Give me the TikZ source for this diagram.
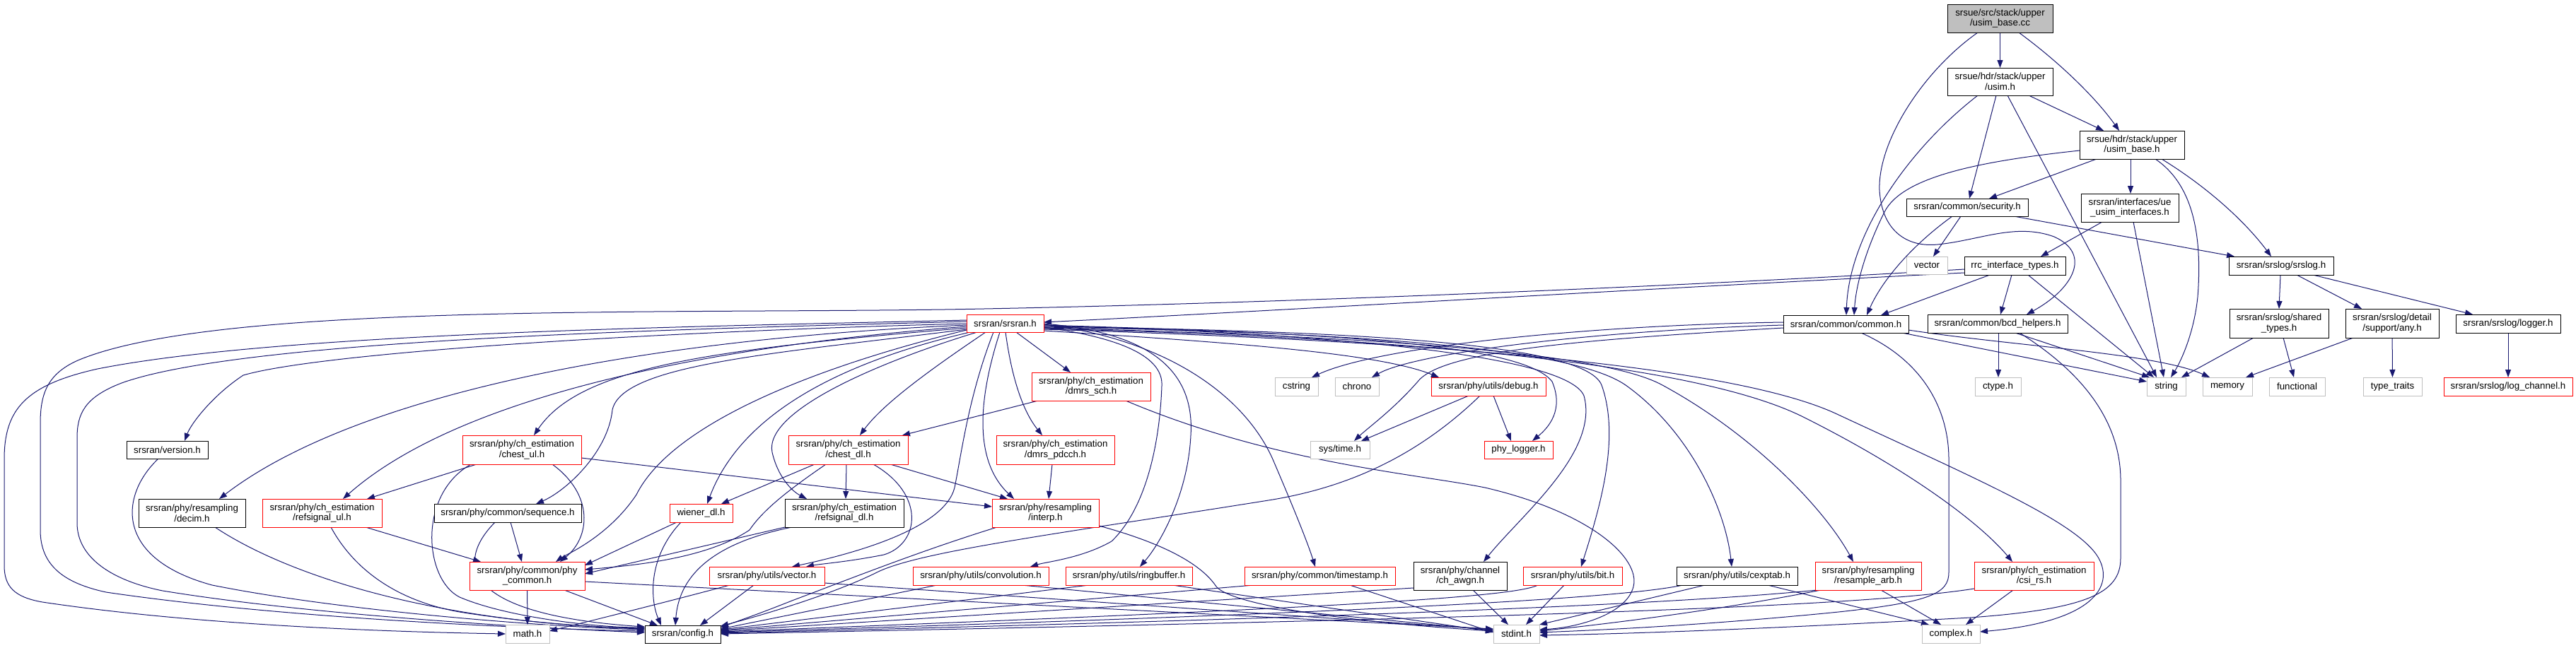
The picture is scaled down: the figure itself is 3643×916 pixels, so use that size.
\documentclass[tikz,border=0pt]{standalone}
\usepackage{fontspec}
\setmainfont{Liberation Sans}
\usetikzlibrary{arrows.meta,backgrounds}
\definecolor{navyc}{HTML}{191970}
\definecolor{greyc}{HTML}{BFBFBF}
\newcommand\bx[7]{\node[#1, minimum width={(#4-#3)*1pt}, minimum height={(#6-#5)*1pt}] (#2) at ({(#3+#4)/2},{(#5+#6)/2}) {#7};}
\tikzset{
 nbase/.style={rectangle, inner sep=0pt, outer sep=0pt, align=center, font={\fontsize{13.3pt}{14.7pt}\selectfont}, fill=white, line width=1pt},
 blk/.style={nbase, draw=black},
 redb/.style={nbase, draw=red},
 sys/.style={nbase, draw=greyc},
 rootb/.style={nbase, draw=black, fill=greyc},
 edge/.style={draw=navyc, line width=1pt, -{Triangle[length=11pt,width=8pt]}},
}
\begin{document}
\begin{tikzpicture}[x=1pt,y=-1pt]
\useasboundingbox (0,0) rectangle (3643,916);
% nodes
\bx{rootb}{cc}{2754}{2903}{6}{46}{srsue/src/stack/upper\\/usim\_base.cc}
\bx{blk}{usim}{2754}{2903}{96}{135}{srsue/hdr/stack/upper\\/usim.h}
\bx{blk}{usimbase}{2941}{3089}{185}{225}{srsue/hdr/stack/upper\\/usim\_base.h}
\bx{blk}{security}{2696}{2868}{281}{306}{srsran/common/security.h}
\bx{blk}{ueusim}{2943}{3081}{274}{314}{srsran/interfaces/ue\\\_usim\_interfaces.h}
\bx{sys}{vector}{2696}{2754}{363}{388}{vector}
\bx{blk}{rrc}{2778}{2921}{363}{389}{rrc\_interface\_types.h}
\bx{blk}{srslog}{3152}{3300}{363}{389}{srsran/srslog/srslog.h}
\bx{redb}{srsranh}{1367}{1476}{445}{470}{srsran/srsran.h}
\bx{blk}{common}{2522}{2699}{446}{471}{srsran/common/common.h}
\bx{blk}{bcd}{2726}{2924}{445}{471}{srsran/common/bcd\_helpers.h}
\bx{blk}{shared}{3153}{3293}{437}{478}{srsran/srslog/shared\\\_types.h}
\bx{blk}{any}{3317}{3449}{437}{478}{srsran/srslog/detail\\/support/any.h}
\bx{blk}{logger}{3473}{3621}{445}{471}{srsran/srslog/logger.h}
\bx{sys}{cstring}{1803}{1864}{534}{560}{cstring}
\bx{sys}{chrono}{1888}{1950}{534}{560}{chrono}
\bx{redb}{debug}{2024}{2186}{534}{560}{srsran/phy/utils/debug.h}
\bx{sys}{ctype}{2793}{2858}{534}{560}{ctype.h}
\bx{sys}{string}{3036}{3091}{534}{560}{string}
\bx{sys}{memory}{3115}{3185}{534}{560}{memory}
\bx{sys}{functional}{3209}{3288}{534}{560}{functional}
\bx{sys}{typetraits}{3342}{3425}{534}{560}{type\_traits}
\bx{redb}{logchannel}{3456}{3638}{534}{560}{srsran/srslog/log\_channel.h}
\bx{redb}{dmrssch}{1459}{1627}{527}{567}{srsran/phy/ch\_estimation\\/dmrs\_sch.h}
\bx{blk}{version}{179}{294}{624}{649}{srsran/version.h}
\bx{redb}{chestul}{654}{822}{616}{657}{srsran/phy/ch\_estimation\\/chest\_ul.h}
\bx{redb}{chestdl}{1115}{1284}{616}{657}{srsran/phy/ch\_estimation\\/chest\_dl.h}
\bx{redb}{dmrspdcch}{1409}{1576}{616}{657}{srsran/phy/ch\_estimation\\/dmrs\_pdcch.h}
\bx{sys}{systime}{1853}{1937}{624}{649}{sys/time.h}
\bx{redb}{phylogger}{2099}{2196}{624}{649}{phy\_logger.h}
\bx{blk}{decim}{196}{347}{706}{746}{srsran/phy/resampling\\/decim.h}
\bx{redb}{refsigul}{371}{540}{706}{746}{srsran/phy/ch\_estimation\\/refsignal\_ul.h}
\bx{blk}{sequence}{614}{822}{713}{739}{srsran/phy/common/sequence.h}
\bx{redb}{wiener}{947}{1036}{713}{739}{wiener\_dl.h}
\bx{blk}{refsigdl}{1110}{1278}{706}{746}{srsran/phy/ch\_estimation\\/refsignal\_dl.h}
\bx{redb}{interp}{1403}{1554}{706}{746}{srsran/phy/resampling\\/interp.h}
\bx{redb}{phycommon}{664}{827}{795}{835}{srsran/phy/common/phy\\\_common.h}
\bx{redb}{vectorh}{1003}{1166}{802}{828}{srsran/phy/utils/vector.h}
\bx{redb}{convolution}{1291}{1483}{802}{828}{srsran/phy/utils/convolution.h}
\bx{redb}{ringbuffer}{1507}{1686}{802}{828}{srsran/phy/utils/ringbuffer.h}
\bx{redb}{timestamp}{1760}{1973}{802}{828}{srsran/phy/common/timestamp.h}
\bx{blk}{chawgn}{1999}{2131}{795}{835}{srsran/phy/channel\\/ch\_awgn.h}
\bx{redb}{bit}{2154}{2294}{802}{828}{srsran/phy/utils/bit.h}
\bx{blk}{cexptab}{2371}{2542}{802}{828}{srsran/phy/utils/cexptab.h}
\bx{redb}{resarb}{2567}{2717}{795}{835}{srsran/phy/resampling\\/resample\_arb.h}
\bx{redb}{csirs}{2792}{2961}{795}{835}{srsran/phy/ch\_estimation\\/csi\_rs.h}
\bx{sys}{math}{715}{777}{884}{910}{math.h}
\bx{blk}{config}{912}{1019}{885}{910}{srsran/config.h}
\bx{sys}{stdint}{2112}{2177}{884}{910}{stdint.h}
\bx{sys}{complex}{2718}{2800}{884}{910}{complex.h}
\begin{pgfonlayer}{background}
% top cluster
\draw[edge] (cc) -- (usim);
\draw[edge] (cc.south -| 2855,0) .. controls (2915,90) and (2965,140) .. (usimbase.north -| 2997,0);
\draw[edge] (cc.south -| 2797,0) .. controls (2720,100) and (2655,200) .. (2658,270) .. controls (2662,330) and (2700,350) .. (2740,346) .. controls (2800,340) and (2850,315) .. (2905,335) .. controls (2960,360) and (2930,410) .. (bcd.north -| 2866,0);
\draw[edge] (usim.south -| 2869,0) -- (usimbase.north -| 2975,0);
\draw[edge] (usim.south -| 2823,0) -- (security.north -| 2785,0);
\draw[edge] (usim.south -| 2797,0) .. controls (2700,210) and (2615,330) .. (common.north -| 2611,0);
\draw[edge] (usim.south -| 2839,0) -- (string.north -| 3050,0);
\draw[edge] (usimbase.south -| 2965,0) -- (security.north -| 2813,0);
\draw[edge] (usimbase.south -| 3013,0) -- (ueusim.north -| 3013,0);
\draw[edge] (usimbase.south -| 3057,0) .. controls (3130,270) and (3180,320) .. (srslog.north -| 3212,0);
\draw[edge] (usimbase.south -| 3048,0) .. controls (3100,260) and (3115,330) .. (3108,420) .. controls (3103,470) and (3085,510) .. (string.north -| 3070,0);
\draw[edge] (usimbase.west |- 0,213) .. controls (2800,228) and (2690,250) .. (2665,300) .. controls (2640,350) and (2625,400) .. (common.north -| 2622,0);
\draw[edge] (security.south -| 2773,0) -- (vector.north -| 2734,0);
\draw[edge] (security.south -| 2761,0) .. controls (2700,350) and (2660,400) .. (common.north -| 2640,0);
\draw[edge] (security.south -| 2848,0) -- (srslog.north -| 3160,0);
\draw[edge] (ueusim.south -| 2973,0) -- (rrc.north -| 2886,0);
\draw[edge] (ueusim.south -| 3017,0) -- (string.north -| 3060,0);
\draw[edge] (rrc.south -| 2814,0) -- (common.north -| 2660,0);
\draw[edge] (rrc.south -| 2845,0) -- (bcd.north -| 2829,0);
\draw[edge] (rrc.south -| 2868,0) -- (string.north -| 3046,0);
\draw[edge] (rrc.west |- 0,386) .. controls (2300,410) and (1800,440) .. (srsranh.east |- 0,456);
\draw[edge] (rrc.west |- 0,381) .. controls (2300,410) and (1700,432) .. (1336,438) .. controls (900,444) and (300,430) .. (110,510) .. controls (65,530) and (57,560) .. (57,600) -- (57,750) .. controls (57,800) and (90,825) .. (150,838) .. controls (400,875) and (750,890) .. (config.west |- 0,893);
% srslog cluster
\draw[edge] (srslog.south -| 3225,0) -- (shared.north -| 3223,0);
\draw[edge] (srslog.south -| 3248,0) -- (any.north -| 3340,0);
\draw[edge] (srslog.south -| 3271,0) -- (logger.north -| 3497,0);
\draw[edge] (shared.south -| 3187,0) -- (string.north -| 3085,0);
\draw[edge] (shared.south -| 3229,0) -- (functional.north -| 3244,0);
\draw[edge] (any.south -| 3328,0) -- (memory.north -| 3176,0);
\draw[edge] (any) -- (typetraits);
\draw[edge] (logger) -- (logchannel);
% common
\draw[edge] (common.west |- 0,456) .. controls (2250,460) and (1950,490) .. (cstring.north -| 1855,0);
\draw[edge] (common.west |- 0,460) .. controls (2250,468) and (2000,500) .. (chrono.north -| 1940,0);
\draw[edge] (common.west |- 0,464) .. controls (2250,480) and (2040,495) .. (2005,540) .. controls (1970,580) and (1935,605) .. (systime.north -| 1915,0);
\draw[edge] (common.south -| 2690,0) -- (string.west |- 0,540);
\draw[edge] (common.east |- 0,467) .. controls (2850,490) and (3050,500) .. (memory.north -| 3125,0);
\draw[edge] (common.south -| 2632,0) .. controls (2720,510) and (2756,580) .. (2756,650) -- (2756,810) .. controls (2756,840) and (2730,852) .. (2600,866) .. controls (2400,886) and (2250,892) .. (stdint.east |- 0,895);
% bcd
\draw[edge] (bcd.south -| 2826,0) -- (ctype.north -| 2826,0);
\draw[edge] (bcd.south -| 2850,0) -- (string.north -| 3040,0);
\draw[edge] (bcd.south -| 2856,0) .. controls (2950,530) and (2999,600) .. (2999,680) -- (2999,790) .. controls (2999,840) and (2950,862) .. (2786,874) .. controls (2500,890) and (2300,897) .. (stdint.east |- 0,899);
% srsran right side
\draw[edge] (srsranh.east |- 0,460) .. controls (1800,470) and (2150,480) .. (2195,540) .. controls (2212,580) and (2190,605) .. (phylogger.north -| 2167,0);
\draw[edge] (srsranh.east |- 0,468) .. controls (1750,485) and (1950,500) .. (debug.north -| 2035,0);
\draw[edge] (srsranh.east |- 0,461) .. controls (1850,470) and (2215,500) .. (2240,560) .. controls (2262,640) and (2150,730) .. (chawgn.north -| 2098,0);
\draw[edge] (srsranh.east |- 0,462) .. controls (1850,468) and (2240,480) .. (2265,545) .. controls (2292,620) and (2262,720) .. (bit.north -| 2236,0);
\draw[edge] (srsranh.east |- 0,463) .. controls (1900,470) and (2220,490) .. (2299,545) .. controls (2390,610) and (2440,720) .. (cexptab.north -| 2449,0);
\draw[edge] (srsranh.east |- 0,464) .. controls (1900,475) and (2260,495) .. (2351,545) .. controls (2480,615) and (2580,720) .. (resarb.north -| 2621,0);
\draw[edge] (srsranh.east |- 0,465) .. controls (2000,478) and (2400,515) .. (2550,590) .. controls (2700,665) and (2800,740) .. (csirs.north -| 2846,0);
\draw[edge] (srsranh.east |- 0,466) .. controls (2000,482) and (2450,515) .. (2600,587) .. controls (2800,680) and (2940,740) .. (2968,790) .. controls (2990,830) and (2960,880) .. (complex.east |- 0,894);
\draw[edge] (srsranh.east |- 0,459) .. controls (1650,480) and (1760,560) .. (1800,650) .. controls (1830,720) and (1850,770) .. (timestamp.north -| 1860,0);
\draw[edge] (srsranh.east |- 0,458) .. controls (1620,470) and (1690,520) .. (1684,616) .. controls (1680,700) and (1640,770) .. (ringbuffer.north -| 1612,0);
\draw[edge] (srsranh.east |- 0,463) .. controls (1600,480) and (1645,510) .. (1643,546) .. controls (1640,630) and (1620,720) .. (1572,766) .. controls (1530,790) and (1480,795) .. (convolution.north -| 1457,0);
% srsran bottom
\draw[edge] (srsranh.south -| 1437,0) -- (dmrssch.north -| 1514,0);
\draw[edge] (srsranh.south -| 1422,0) .. controls (1430,530) and (1445,580) .. (dmrspdcch.north -| 1474,0);
\draw[edge] (srsranh.south -| 1414,0) .. controls (1385,560) and (1375,650) .. (interp.north -| 1434,0);
\draw[edge] (srsranh.south -| 1405,0) .. controls (1370,560) and (1360,640) .. (1350,690) .. controls (1335,750) and (1200,785) .. (vectorh.north -| 1120,0);
\draw[edge] (srsranh.south -| 1394,0) .. controls (1320,520) and (1250,570) .. (chestdl.north -| 1216,0);
\draw[edge] (srsranh.south -| 1382,0) .. controls (1250,510) and (1080,580) .. (1092,640) .. controls (1100,675) and (1120,695) .. (refsigdl.north -| 1141,0);
\draw[edge] (srsranh.south -| 1372,0) .. controls (1200,510) and (1050,580) .. (wiener.north -| 1000,0);
\draw[edge] (srsranh.west |- 0,467) .. controls (1150,520) and (950,600) .. (900,700) .. controls (860,760) and (800,785) .. (phycommon.north -| 786,0);
\draw[edge] (srsranh.west |- 0,466) .. controls (1100,500) and (880,515) .. (866,580) .. controls (860,640) and (800,695) .. (sequence.north -| 758,0);
\draw[edge] (srsranh.west |- 0,464) .. controls (1000,495) and (820,520) .. (chestul.north -| 755,0);
\draw[edge] (srsranh.west |- 0,462) .. controls (1000,490) and (650,560) .. (refsigul.north -| 485,0);
\draw[edge] (srsranh.west |- 0,460) .. controls (900,480) and (500,560) .. (decim.north -| 310,0);
\draw[edge] (srsranh.west |- 0,458) .. controls (900,470) and (450,500) .. (344,531) .. controls (300,560) and (270,600) .. (version.north -| 261,0);
\draw[edge] (srsranh.west |- 0,455) .. controls (1000,465) and (350,478) .. (172,542) .. controls (120,562) and (109,585) .. (109,620) -- (109,740) .. controls (109,790) and (160,822) .. (230,836) .. controls (450,872) and (780,890) .. (config.west |- 0,895);
\draw[edge] (srsranh.west |- 0,453) .. controls (1000,462) and (400,470) .. (138,522) .. controls (35,545) and (6,580) .. (6,650) -- (6,800) .. controls (6,830) and (20,845) .. (60,852) .. controls (300,888) and (600,895) .. (math.west |- 0,897);
% lower left
\draw[edge] (version.south -| 224,0) .. controls (170,700) and (160,790) .. (300,828) .. controls (500,868) and (800,888) .. (config.west |- 0,891);
\draw[edge] (decim.south -| 304,0) .. controls (400,810) and (600,880) .. (config.west |- 0,890);
\draw[edge] (refsigul.south -| 468,0) .. controls (500,805) and (560,850) .. (650,866) .. controls (750,882) and (850,888) .. (config.west |- 0,889);
\draw[edge] (refsigul.south -| 517,0) -- (phycommon.north -| 680,0);
\draw[edge] (chestul.south -| 674,0) -- (refsigul.north -| 519,0);
\draw[edge] (chestul.south -| 781,0) .. controls (840,700) and (835,760) .. (phycommon.north -| 792,0);
\draw[edge] (chestul.east |- 0,648) -- (interp.west |- 0,717);
\draw[edge] (chestul.south -| 666,0) .. controls (590,700) and (600,820) .. (650,845) .. controls (720,875) and (850,888) .. (config.west |- 0,888);
\draw[edge] (sequence.south -| 722,0) -- (phycommon.north -| 738,0);
\draw[edge] (sequence.south -| 700,0) .. controls (640,800) and (660,870) .. (config.west |- 0,887);
\draw[edge] (phycommon) -- (math);
\draw[edge] (phycommon.south -| 798,0) -- (config.north -| 930,0);
\draw[edge] (phycommon.east |- 0,823) -- (stdint.west |- 0,890);
\draw[edge] (wiener.south -| 957,0) -- (phycommon.east |- 0,800);
\draw[edge] (wiener.south -| 963,0) .. controls (915,790) and (920,850) .. (config.north -| 935,0);
\draw[edge] (refsigdl.south west) -- (phycommon.east |- 0,812);
\draw[edge] (refsigdl.south -| 1120,0) .. controls (1000,770) and (960,820) .. (config.north -| 955,0);
\draw[edge] (chestdl.south -| 1152,0) -- (wiener.north -| 1020,0);
\draw[edge] (chestdl.south -| 1197,0) -- (refsigdl.north -| 1196,0);
\draw[edge] (chestdl.south -| 1259,0) -- (interp.north -| 1425,0);
\draw[edge] (chestdl.south -| 1168,0) .. controls (1120,690) and (1080,720) .. (1060,750) .. controls (1000,790) and (900,800) .. (phycommon.east |- 0,806);
\draw[edge] (chestdl.south -| 1235,0) .. controls (1310,700) and (1300,770) .. (1250,785) .. controls (1200,795) and (1160,798) .. (vectorh.north -| 1140,0);
\draw[edge] (dmrssch.south -| 1468,0) -- (chestdl.north -| 1276,0);
\draw[edge] (dmrssch.south -| 1592,0) .. controls (1800,655) and (2000,670) .. (2100,690) .. controls (2250,725) and (2320,790) .. (2310,830) .. controls (2300,870) and (2230,888) .. (stdint.east |- 0,891);
\draw[edge] (dmrspdcch.south -| 1488,0) -- (interp.north -| 1483,0);
\draw[edge] (interp.south -| 1410,0) .. controls (1300,780) and (1200,820) .. (1120,850) .. controls (1070,870) and (1040,880) .. (config.east |- 0,888);
\draw[edge] (interp.east |- 0,744) .. controls (1650,770) and (1700,800) .. (1720,830) .. controls (1740,855) and (1900,880) .. (stdint.west |- 0,893);
\draw[edge] (vectorh.south -| 1032,0) .. controls (950,850) and (850,875) .. (math.east |- 0,893);
\draw[edge] (vectorh.south -| 1066,0) -- (config.north -| 990,0);
\draw[edge] (vectorh.east |- 0,825) -- (stdint.west |- 0,891);
\draw[edge] (convolution.south -| 1325,0) -- (config.east |- 0,890);
\draw[edge] (convolution.south -| 1445,0) -- (stdint.west |- 0,892);
\draw[edge] (ringbuffer.south -| 1540,0) -- (config.east |- 0,891);
\draw[edge] (ringbuffer.south -| 1658,0) -- (stdint.west |- 0,894);
\draw[edge] (timestamp.south -| 1773,0) -- (config.east |- 0,892);
\draw[edge] (timestamp.south -| 1909,0) -- (stdint.west |- 0,895);
\draw[edge] (debug.south -| 2077,0) -- (systime.north -| 1925,0);
\draw[edge] (debug.south -| 2112,0) -- (phylogger.north -| 2137,0);
\draw[edge] (debug.south -| 2093,0) .. controls (2000,650) and (1900,690) .. (1800,707) .. controls (1500,755) and (1300,780) .. (1240,810) .. controls (1180,840) and (1080,870) .. (config.east |- 0,886);
\draw[edge] (chawgn.south -| 2083,0) -- (stdint.north -| 2133,0);
\draw[edge] (chawgn.west |- 0,832) -- (config.east |- 0,893);
\draw[edge] (bit.south -| 2212,0) -- (stdint.north -| 2158,0);
\draw[edge] (bit.south -| 2175,0) .. controls (2140,845) and (1900,860) .. (config.east |- 0,894);
\draw[edge] (cexptab.south -| 2411,0) -- (stdint.north east);
\draw[edge] (cexptab.south -| 2380,0) .. controls (2300,845) and (2000,865) .. (config.east |- 0,895);
\draw[edge] (cexptab.south -| 2500,0) -- (complex.north -| 2728,0);
\draw[edge] (resarb.south -| 2575,0) .. controls (2450,860) and (2300,880) .. (stdint.east |- 0,893);
\draw[edge] (resarb.south -| 2570,0) .. controls (2400,852) and (2000,872) .. (config.east |- 0,896);
\draw[edge] (resarb.south -| 2660,0) -- (complex.north -| 2745,0);
\draw[edge] (csirs.south -| 2847,0) -- (complex.north -| 2780,0);
\draw[edge] (csirs.west |- 0,833) .. controls (2650,855) and (2300,872) .. (config.east |- 0,897);
\end{pgfonlayer}
\end{tikzpicture}
\end{document}
